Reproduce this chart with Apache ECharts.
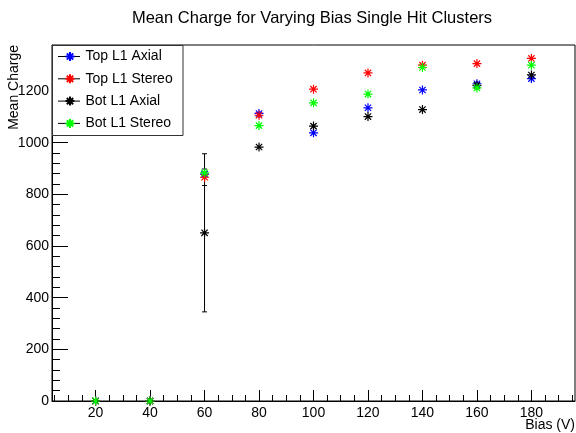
<!DOCTYPE html>
<html><head><meta charset="utf-8">
<script src="https://cdn.jsdelivr.net/npm/echarts@6/dist/echarts.min.js"></script>
<style>html,body{margin:0;padding:0;background:#fff}#c{width:576px;height:433px}</style>
</head><body><div id="c"></div>
<script>
// ---- data ----
const biasValues = [20, 40, 60, 80, 100, 120, 140, 160, 180];
const seriesNames = ['Top L1 Axial', 'Top L1 Stereo', 'Bot L1 Axial', 'Bot L1 Stereo'];
const seriesColors = ['#0000ff', '#ff0000', '#000000', '#00ff00'];
const topL1Axial   = [0, 0, 878, 1113, 1038, 1135, 1204, 1228, 1248];
const topL1Stereo  = [0, 0, 866, 1106, 1207, 1270, 1300, 1306, 1326];
const botL1Axial   = [0, 0, 651, 983, 1064, 1101, 1128, 1222, 1262];
const botL1Stereo  = [0, 0, 883, 1066, 1154, 1188, 1291, 1212, 1300];
const topL1AxialErr  = [0, 0, 0, 0, 0, 0, 0, 0, 0];
const topL1StereoErr = [0, 0, 32, 0, 0, 0, 0, 0, 0];
const botL1AxialErr  = [0, 0, 306, 0, 0, 0, 0, 0, 0];
const botL1StereoErr = [0, 0, 0, 0, 0, 0, 0, 0, 0];
const xTickLabels = [20, 40, 60, 80, 100, 120, 140, 160, 180];
const xMinorTicks = [5, 10, 15, 25, 30, 35, 45, 50, 55, 65, 70, 75, 85, 90, 95, 105, 110, 115, 125, 130, 135, 145, 150, 155, 165, 170, 175, 185, 190, 195];
const yTickLabels = [0, 200, 400, 600, 800, 1000, 1200];
const yMinorTicks = [40, 80, 120, 160, 240, 280, 320, 360, 440, 480, 520, 560, 640, 680, 720, 760, 840, 880, 920, 960, 1040, 1080, 1120, 1160, 1240, 1280, 1320, 1360];
const xMin = 4, xMax = 196, yMin = 0, yMax = 1378;
const titleText = 'Mean Charge for Varying Bias Single Hit Clusters';
const xTitle = 'Bias (V)';
const yTitle = 'Mean Charge';

const allValues = [topL1Axial, topL1Stereo, botL1Axial, botL1Stereo];
const allErrors = [topL1AxialErr, topL1StereoErr, botL1AxialErr, botL1StereoErr];

const FONT = 'Liberation Sans, Arial, Helvetica, sans-serif';
const STAR = 'path://M0,5L10,5M5,0L5,10M1.5,1.5L8.5,8.5M8.5,1.5L1.5,8.5';

const series = [];
allValues.forEach((vals, k) => {
  series.push({
    type: 'custom',
    name: seriesNames[k] + ' err',
    xAxisIndex: 0, yAxisIndex: 0,
    data: biasValues.map((x, i) => [x, vals[i], allErrors[k][i]]),
    encode: { x: 0, y: 1 },
    silent: true,
    z: 2,
    renderItem: function (params, api) {
      const e = api.value(2);
      if (!(e > 0)) return null;
      const x = api.value(0), y = api.value(1);
      const top = api.coord([x, y + e]);
      const bot = api.coord([x, y - e]);
      const st = { stroke: '#000', lineWidth: 1 };
      const c = 2.5;
      return {
        type: 'group',
        children: [
          { type: 'line', shape: { x1: top[0], y1: top[1], x2: bot[0], y2: bot[1] }, style: st },
          { type: 'line', shape: { x1: top[0] - c, y1: top[1], x2: top[0] + c, y2: top[1] }, style: st },
          { type: 'line', shape: { x1: bot[0] - c, y1: bot[1], x2: bot[0] + c, y2: bot[1] }, style: st }
        ]
      };
    }
  });
  series.push({
    type: 'scatter',
    name: seriesNames[k],
    xAxisIndex: 0, yAxisIndex: 0,
    data: biasValues.map((x, i) => [x, vals[i]]),
    symbol: STAR,
    symbolSize: 9,
    symbolKeepAspect: true,
    itemStyle: { color: 'rgba(0,0,0,0)', borderColor: seriesColors[k], borderWidth: 1.2, opacity: 1 },
    emphasis: { disabled: true },
    z: 2
  });
});

// legend layout
const legStarLeft = 64.5, legTop = 49.5, legItemW = 9, legItemH = 9, legGap = 8.3, legRow = 14;
const legLineX1 = 58, legLineX2 = 80;
const legendLines = seriesNames.map((n, i) => ({
  type: 'line',
  shape: { x1: legLineX1, y1: legTop + i * (legRow + legGap) + legRow / 2, x2: legLineX2, y2: legTop + i * (legRow + legGap) + legRow / 2 },
  style: { stroke: '#000', lineWidth: 1 },
  z: 4
}));

const plain = v => String(v);
const chart = echarts.init(document.getElementById('c'), null, { renderer: 'canvas' });
chart.setOption({
  animation: false,
  backgroundColor: '#fff',
  grid: { left: 52, right: 1, top: 45, bottom: 32, show: true, borderColor: '#000', borderWidth: 1, backgroundColor: 'transparent' },
  xAxis: [
    {
      type: 'value', min: xMin, max: xMax, position: 'bottom',
      axisLine: { show: true, onZero: false, lineStyle: { color: '#000', width: 1 } },
      axisTick: { show: true, inside: true, length: 11, customValues: xTickLabels, lineStyle: { color: '#000' } },
      axisLabel: { show: true, customValues: xTickLabels, formatter: plain, margin: 5, color: '#000', fontSize: 14, fontFamily: FONT },
      splitLine: { show: false }
    },
    {
      type: 'value', min: xMin, max: xMax, position: 'bottom', gridIndex: 0,
      axisLine: { show: false },
      axisTick: { show: true, inside: true, length: 6, customValues: xMinorTicks, lineStyle: { color: '#000' } },
      axisLabel: { show: false },
      splitLine: { show: false }
    }
  ],
  yAxis: [
    {
      type: 'value', min: yMin, max: yMax, position: 'left',
      axisLine: { show: true, onZero: false, lineStyle: { color: '#000', width: 1 } },
      axisTick: { show: true, inside: true, length: 16, customValues: yTickLabels, lineStyle: { color: '#000' } },
      axisLabel: { show: true, customValues: yTickLabels, formatter: plain, margin: 3, color: '#000', fontSize: 14, fontFamily: FONT },
      splitLine: { show: false }
    },
    {
      type: 'value', min: yMin, max: yMax, position: 'left', gridIndex: 0,
      axisLine: { show: false },
      axisTick: { show: true, inside: true, length: 8, customValues: yMinorTicks, lineStyle: { color: '#000' } },
      axisLabel: { show: false },
      splitLine: { show: false }
    }
  ],
  legend: {
    data: seriesNames,
    orient: 'vertical',
    left: legStarLeft, top: legTop,
    padding: 0,
    itemWidth: legItemW, itemHeight: legItemH, itemGap: legGap,
    selectedMode: false,
    textStyle: { color: '#000', fontSize: 14, fontFamily: FONT, padding: [0, 0, 0, 6] },
    z: 5
  },
  graphic: [
    { type: 'text', x: 312, y: 18, style: { text: titleText, fill: '#000', font: '16.5px ' + FONT, textAlign: 'center', textVerticalAlign: 'middle' }, z: 10 },
    { type: 'text', x: 575, y: 425, style: { text: xTitle, fill: '#000', font: '14px ' + FONT, textAlign: 'right', textVerticalAlign: 'middle' }, z: 10 },
    { type: 'text', x: 14, y: 45, rotation: Math.PI / 2, style: { text: yTitle, fill: '#000', font: '14px ' + FONT, textAlign: 'right', textVerticalAlign: 'middle' }, z: 10 },
    { type: 'rect', shape: { x: 52.5, y: 45.5, width: 130.5, height: 90 }, style: { fill: '#fff', stroke: '#333', lineWidth: 1 }, z: 3 }
  ].concat(legendLines),
  series: series
});
</script>
</body></html>
